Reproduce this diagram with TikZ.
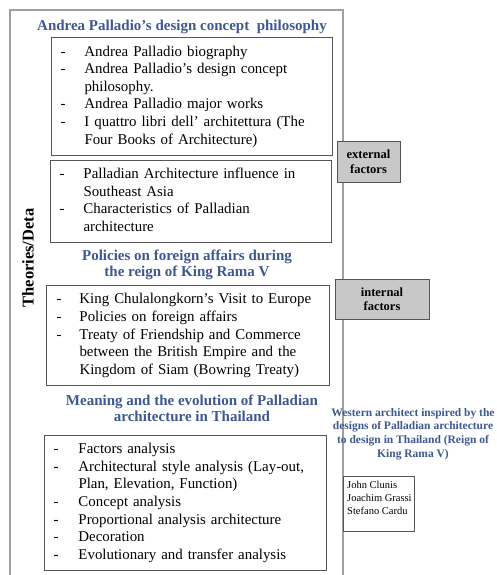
\documentclass[tikz,border=0pt]{standalone}
\usepackage{fontspec}
\setmainfont{Liberation Serif}
\definecolor{ttlblue}{RGB}{62,88,145}
\definecolor{framegray}{RGB}{160,160,160}
\definecolor{boxgray}{RGB}{85,85,85}
\definecolor{factfill}{RGB}{200,200,200}
\newcommand{\bodyfnt}{\fontsize{14.9}{17.6}\selectfont}
\tikzset{
 listbox/.style={draw=boxgray, line width=1pt, inner xsep=9pt, inner ysep=0pt,
   anchor=north west, align=left, font=\bodyfnt},
 ttl/.style={text=ttlblue, font=\fontsize{15}{16}\selectfont\bfseries, align=center, inner sep=0pt},
 wttl/.style={text=ttlblue, font=\fontsize{11.5}{13.8}\selectfont\bfseries, align=center, inner sep=0pt},
 factbox/.style={draw=boxgray, fill=factfill, line width=1pt,
   font=\fontsize{12.5}{14.5}\selectfont\bfseries, align=center, inner sep=0pt},
 frameline/.style={draw=framegray, line width=1.2pt},
 namebox/.style={draw=boxgray, line width=1pt, anchor=north west, inner sep=0pt},
 nametext/.style={anchor=north west, align=left, inner sep=0pt,
   font=\fontsize{10.5}{13}\selectfont}
}
\begin{document}
\begin{tikzpicture}[x=1pt,y=-1pt]
\useasboundingbox[fill=white] (0,0) rectangle (497,575);

% list boxes
\node[listbox, minimum width=281pt, minimum height=118pt, text width=263pt] (b1) at (51,37)
 {\begin{tabular}{@{}p{24pt}@{}l@{}}
 - & Andrea Palladio biography\\
 - & Andrea Palladio's design concept\\
   & philosophy.\\
 - & Andrea Palladio major works\\
 - & I quattro libri dell' architettura (The\\
   & Four Books of Architecture)
 \end{tabular}};
\node[listbox, minimum width=281pt, minimum height=82pt, text width=263pt] (b2) at (50,160)
 {\begin{tabular}{@{}p{24pt}@{}l@{}}
 - & Palladian Architecture influence in\\
   & Southeast Asia\\
 - & Characteristics of Palladian\\
   & architecture
 \end{tabular}};
\node[listbox, minimum width=281pt, minimum height=100pt, text width=263pt, inner xsep=10pt] (b3) at (46,285)
 {\begin{tabular}{@{}p{23pt}@{}l@{}}
 - & King Chulalongkorn's Visit to Europe\\
 - & Policies on foreign affairs\\
 - & Treaty of Friendship and Commerce\\
   & between the British Empire and the\\
   & Kingdom of Siam (Bowring Treaty)
 \end{tabular}};
\node[listbox, minimum width=282pt, minimum height=135pt, text width=264pt] (b4) at (44,435)
 {\begin{tabular}{@{}p{25pt}@{}l@{}}
 - & Factors analysis\\
 - & Architectural style analysis (Lay-out,\\
   & Plan, Elevation, Function)\\
 - & Concept analysis\\
 - & Proportional analysis architecture\\
 - & Decoration\\
 - & Evolutionary and transfer analysis
 \end{tabular}};

% titles
\node[ttl] (t1) at (182,27) {Andrea Palladio's design concept\ \ philosophy};
\node[ttl] (t2) at (187,265) {Policies on foreign affairs during\\the reign of King Rama V};
\node[ttl] (t3) at (192,408) {Meaning and the evolution of Palladian\\architecture in Thailand};

% side label
\node[rotate=90, font=\fontsize{16.5}{18}\selectfont\bfseries, inner sep=0pt] (side) at (28,258) {Theories/Deta};

% factor boxes
\node[factbox, minimum width=63pt, minimum height=41pt] (ext) at (368.5,161.5) {external\\factors};
\node[factbox, minimum width=94pt, minimum height=40pt] (int) at (382,299) {internal\\factors};

% frame
\coordinate (fBL) at (10,575);
\coordinate (fTL) at (10,10);
\coordinate (fTR) at (343,10);
\coordinate (fBR) at (343,575);
\draw[frameline] (fBL) -- (fTL) -- (fTR) -- (ext.north -| fTR);
\draw[frameline] (ext.south -| fTR) -- (int.north -| fTR);
\draw[frameline] (int.south -| fTR) -- (fBR);

% western architects
\node[wttl] (west) at (413,434) {Western architect inspired by the\\designs of Palladian architecture\\to design in Thailand (Reign of\\King Rama V)};
\node[namebox, minimum width=71pt, minimum height=55pt] (names) at (343,476) {};
\node[nametext] (namestxt) at (347,481) {John Clunis\\Joachim Grassi\\Stefano Cardu};
\end{tikzpicture}
\end{document}
